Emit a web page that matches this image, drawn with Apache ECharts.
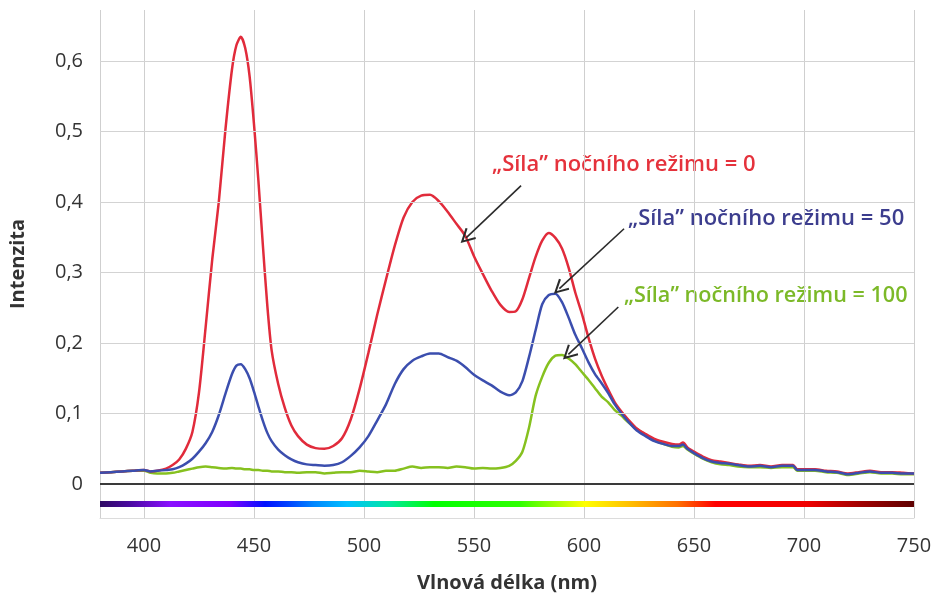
<!DOCTYPE html>
<html>
<head>
<meta charset="utf-8">
<script src="https://cdn.jsdelivr.net/npm/echarts@6/dist/echarts.min.js"></script>
<style>
html,body{margin:0;padding:0;background:#fff;}
#chart{width:931px;height:596px;}
</style>
</head>
<body>
<div id="chart"></div>
<script>
// ---- data ----
const wavelengths = [380,385,390,395,400,403,406,410,413,416,419,422,425,428,431,434,437,440,442,444,446,448,450,452,454,456,458,461,464,467,470,474,478,482,486,490,494,498,502,506,510,514,518,522,526,530,534,538,542,546,550,554,558,562,566,569,572,575,578,581,584,587,590,593,596,599,602,605,608,611,614,617,620,624,628,632,636,640,643,645,647,650,654,658,662,666,670,675,680,685,690,695,697,700,705,710,715,720,725,730,735,740,745,750];

const red0 = [0.016,0.017,0.018,0.019,0.020,0.018,0.019,0.022,0.027,0.035,0.050,0.074,0.130,0.222,0.318,0.400,0.502,0.588,0.622,0.634,0.618,0.578,0.510,0.430,0.340,0.255,0.190,0.142,0.108,0.083,0.068,0.056,0.051,0.050,0.054,0.065,0.092,0.135,0.186,0.240,0.290,0.338,0.378,0.400,0.409,0.410,0.401,0.386,0.369,0.352,0.323,0.298,0.274,0.254,0.244,0.245,0.262,0.292,0.322,0.345,0.356,0.349,0.334,0.307,0.272,0.242,0.208,0.178,0.154,0.134,0.116,0.103,0.092,0.079,0.071,0.064,0.060,0.057,0.056,0.059,0.052,0.046,0.039,0.034,0.032,0.030,0.028,0.026,0.027,0.025,0.027,0.027,0.021,0.021,0.021,0.019,0.018,0.015,0.017,0.019,0.017,0.017,0.016,0.015];

const blue50 = [0.016,0.017,0.018,0.019,0.020,0.018,0.019,0.020,0.021,0.024,0.029,0.036,0.046,0.058,0.074,0.098,0.128,0.156,0.168,0.170,0.163,0.150,0.131,0.110,0.090,0.073,0.061,0.049,0.041,0.035,0.031,0.028,0.027,0.026,0.027,0.031,0.040,0.052,0.068,0.090,0.113,0.142,0.163,0.175,0.181,0.185,0.185,0.180,0.175,0.166,0.155,0.147,0.140,0.131,0.126,0.130,0.146,0.180,0.218,0.255,0.268,0.270,0.258,0.236,0.212,0.193,0.173,0.156,0.143,0.129,0.113,0.100,0.089,0.076,0.068,0.061,0.057,0.054,0.054,0.056,0.050,0.044,0.037,0.032,0.030,0.029,0.027,0.025,0.026,0.024,0.026,0.026,0.020,0.020,0.020,0.018,0.017,0.014,0.016,0.018,0.016,0.016,0.015,0.015];

const green100 = [0.016,0.017,0.018,0.019,0.019,0.016,0.015,0.015,0.016,0.018,0.020,0.022,0.024,0.025,0.024,0.023,0.022,0.023,0.022,0.022,0.021,0.021,0.020,0.020,0.019,0.019,0.018,0.018,0.017,0.017,0.016,0.017,0.017,0.015,0.016,0.017,0.017,0.019,0.018,0.017,0.019,0.019,0.022,0.025,0.023,0.024,0.024,0.023,0.025,0.024,0.022,0.023,0.022,0.023,0.026,0.033,0.046,0.080,0.125,0.152,0.172,0.182,0.183,0.178,0.170,0.159,0.148,0.136,0.124,0.116,0.105,0.097,0.088,0.078,0.070,0.062,0.057,0.053,0.052,0.054,0.049,0.043,0.036,0.031,0.028,0.027,0.025,0.024,0.024,0.023,0.024,0.024,0.019,0.019,0.019,0.017,0.016,0.013,0.015,0.017,0.015,0.015,0.014,0.014];

const seriesNames = ['„Síla” nočního režimu = 0', '„Síla” nočního režimu = 50', '„Síla” nočního režimu = 100'];
const yTicks = [0.1,0.2,0.3,0.4,0.5,0.6];
const xRange = [380, 750];
const yRange = [-0.048, 0.672];
const spectrumLevel = -0.028;
// arrows: [from, to] in data units (wavelength, intensity)
const arrows = [
  [[571.4,0.423],[546.4,0.349]],
  [[618.2,0.362],[588.8,0.277]],
  [[615.6,0.251],[592.9,0.184]]
];

// ---- chart ----
const FONT = '"Open Sans", "Noto Sans", sans-serif';
const cRed = '#e12b3b', cBlue = '#3b4eae', cGreen = '#86c11f';
const tRed = '#e5323c', tBlue = '#3c3d8e', tGreen = '#7cb928';

const pairs = arr => wavelengths.map((w,i)=>[w,arr[i]]);

const chart = echarts.init(document.getElementById('chart'), null, {renderer:'canvas'});

const spectrumGrad = new echarts.graphic.LinearGradient(0,0,1,0,[
  {offset:0, color:'#2b0a5c'},
  {offset:0.04, color:'#4a0aa0'},
  {offset:0.089, color:'#8a10ff'},
  {offset:0.162, color:'#8000ff'},
  {offset:0.205, color:'#0010ff'},
  {offset:0.232, color:'#0040ff'},
  {offset:0.265, color:'#0088ff'},
  {offset:0.305, color:'#00c0ff'},
  {offset:0.357, color:'#00e8a0'},
  {offset:0.411, color:'#00ff00'},
  {offset:0.516, color:'#30ff00'},
  {offset:0.595, color:'#ffff00'},
  {offset:0.649, color:'#ffc000'},
  {offset:0.708, color:'#ff7000'},
  {offset:0.754, color:'#ff0000'},
  {offset:0.865, color:'#f00000'},
  {offset:0.932, color:'#a00000'},
  {offset:1, color:'#5a0000'}
]);

const chevron = 'path://M0,0 L6,10 L4.6,10.8 L0,3 L-4.6,10.8 L-6,10 Z';

const option = {
  animation:false,
  backgroundColor:'#ffffff',
  grid:{left:100, right:17, top:10, bottom:78, containLabel:false, outerBoundsMode:'none'},
  xAxis:{
    type:'value', min:xRange[0], max:xRange[1], splitNumber:7,
    axisLine:{show:true, onZero:false, lineStyle:{color:'#dcdcdc', width:1}},
    axisTick:{show:false},
    splitLine:{show:true, lineStyle:{color:'#cfcfcf', width:1}},
    axisLabel:{showMinLabel:false, showMaxLabel:true, color:'#333', fontSize:20, fontFamily:FONT, margin:18},
    name:'Vlnová délka (nm)', nameLocation:'middle', nameGap:55,
    nameTextStyle:{color:'#333', fontSize:20, fontWeight:'bold', fontFamily:FONT}
  },
  yAxis:{
    type:'value', min:yRange[0], max:yRange[1], splitNumber:7,
    axisLine:{show:false}, axisTick:{show:false},
    splitLine:{show:false},
    axisLabel:{showMinLabel:false, showMaxLabel:false, color:'#333', fontSize:20, fontFamily:FONT, margin:17,
      formatter:function(v){
        const r = Math.round(v*10);
        if (Math.abs(v*10 - r) > 1e-6) return '';
        return r===0 ? '0' : (r/10).toFixed(1).replace('.',',');
      }},
    name:'Intenzita', nameLocation:'middle', nameGap:72, nameRotate:90,
    nameTextStyle:{color:'#333', fontSize:20, fontWeight:'bold', fontFamily:FONT}
  },
  series:[
    {
      name:'grid', type:'line', data:[], silent:true,
      markLine:{
        silent:true, symbol:['none','none'], label:{show:false},
        lineStyle:{color:'#d3d3d3', width:1, type:'solid'},
        data: yTicks.map(v=>({yAxis:v}))
      }
    },
    {
      name:'spectrum', type:'line', silent:true, symbol:'none',
      data:[[xRange[0],spectrumLevel],[xRange[1],spectrumLevel]],
      lineStyle:{width:6, color:spectrumGrad, cap:'butt'},
      markLine:{
        silent:true, symbol:['none','none'], label:{show:false},
        lineStyle:{color:'#3a3a3a', width:2, type:'solid'},
        data:[{yAxis:0}]
      }
    },
    {
      name:seriesNames[2], type:'line', symbol:'none', smooth:0.25,
      data:pairs(green100), lineStyle:{color:cGreen, width:2.5}, itemStyle:{color:cGreen}
    },
    {
      name:seriesNames[0], type:'line', symbol:'none', smooth:0.25,
      data:pairs(red0), lineStyle:{color:cRed, width:2.5}, itemStyle:{color:cRed}
    },
    {
      name:seriesNames[1], type:'line', symbol:'none', smooth:0.25,
      data:pairs(blue50), lineStyle:{color:cBlue, width:2.5}, itemStyle:{color:cBlue},
      markLine:{
        silent:true, symbol:['none', chevron], symbolSize:[15,15], label:{show:false},
        lineStyle:{color:'#2b2b2b', width:1.6, type:'solid'},
        itemStyle:{color:'#2b2b2b'},
        data: arrows.map(a=>[{coord:a[0]},{coord:a[1]}])
      }
    }
  ],
  graphic:[
    {type:'text', left:492, top:154, style:{text:seriesNames[0], fill:tRed, font:'600 22px '+FONT}},
    {type:'text', left:628, top:208, style:{text:seriesNames[1], fill:tBlue, font:'600 22px '+FONT}},
    {type:'text', left:624, top:285, style:{text:seriesNames[2], fill:tGreen, font:'600 21.6px '+FONT}}
  ]
};
chart.setOption(option);
</script>
</body>
</html>
